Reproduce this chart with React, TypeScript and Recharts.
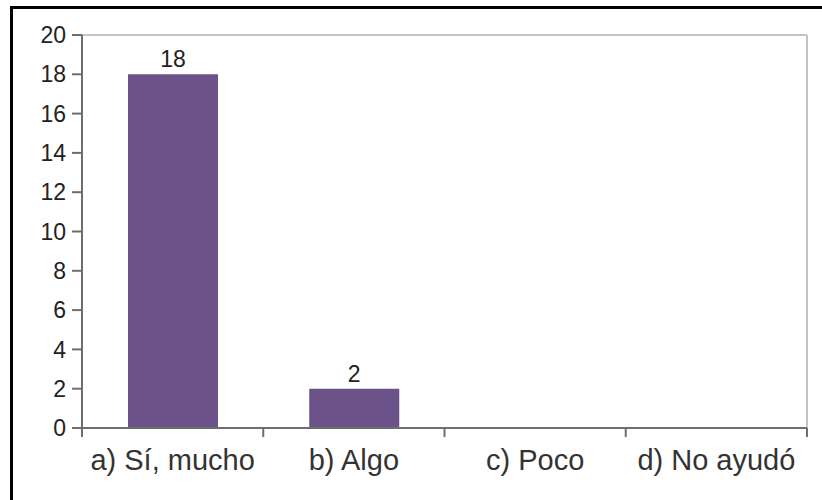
import React from 'react';
import { BarChart, Bar, XAxis, YAxis, LabelList, ReferenceLine } from 'recharts';

const categories = ['a) Sí, mucho', 'b) Algo', 'c) Poco', 'd) No ayudó'];
const counts = [18, 2, 0, 0];
const yTicks = [0, 2, 4, 6, 8, 10, 12, 14, 16, 18, 20];

const data = categories.map((name, i) => ({ name, value: counts[i] }));

const W = 822;
const H = 500;
const PLOT_LEFT = 82;
const PLOT_RIGHT = 807;
const PLOT_TOP = 35;
const PLOT_BOTTOM = 428;
const BAND = (PLOT_RIGHT - PLOT_LEFT) / categories.length;

const AXIS = '#6e6e6e';
const FRAME = '#c4c4c4';
const BAR = '#6b5289';

function XTick(props: any) {
  const { x, payload, index } = props;
  const left = x - BAND / 2;
  return (
    <g>
      <line x1={left} x2={left} y1={PLOT_BOTTOM} y2={PLOT_BOTTOM + 9} stroke={AXIS} strokeWidth={2} />
      {index === categories.length - 1 && (
        <line x1={left + BAND} x2={left + BAND} y1={PLOT_BOTTOM} y2={PLOT_BOTTOM + 9} stroke={AXIS} strokeWidth={2} />
      )}
      <text x={x} y={PLOT_BOTTOM + 42} textAnchor="middle" fontFamily="Liberation Sans" fontSize={29} fill="#333">
        {payload.value}
      </text>
    </g>
  );
}

export default function App() {
  return (
    <div style={{ position: 'fixed', left: 0, top: 0, width: W, height: H, overflow: 'hidden', background: '#fff' }}>
      <div
        style={{
          position: 'absolute',
          left: 10,
          top: 6,
          width: W,
          height: H - 8,
          borderLeft: '3px solid #000',
          borderTop: '3px solid #000',
          borderBottom: '1px solid #d0d0d0',
        }}
      />
      <div style={{ position: 'absolute', left: 0, top: 0 }}>
        <BarChart
          width={W}
          height={H}
          data={data}
          margin={{ top: PLOT_TOP, right: W - PLOT_RIGHT, bottom: 12, left: 22 }}
        >
          <XAxis
            dataKey="name"
            height={H - PLOT_BOTTOM - 12}
            stroke={AXIS}
            strokeWidth={2}
            tickLine={false}
            tick={<XTick />}
            interval={0}
          />
          <YAxis
            width={PLOT_LEFT - 22}
            domain={[0, 20]}
            ticks={yTicks}
            interval={0}
            stroke={AXIS}
            strokeWidth={2}
            tickSize={10}
            tickMargin={6}
            tick={{ fontFamily: 'Liberation Sans', fontSize: 23, fill: '#222' }}
          />
          {/* light frame along the top and right of the plot */}
          <ReferenceLine y={20} stroke={FRAME} strokeWidth={2} />
          <ReferenceLine x={categories[categories.length - 1]} position="end" stroke={FRAME} strokeWidth={2} />
          <Bar dataKey="value" fill={BAR} barSize={90} isAnimationActive={false}>
            <LabelList
              dataKey="value"
              position="top"
              offset={7}
              formatter={(v: any) => (v > 0 ? v : '')}
              style={{ fontFamily: 'Liberation Sans', fontSize: 23, fill: '#222' }}
            />
          </Bar>
        </BarChart>
      </div>
    </div>
  );
}
